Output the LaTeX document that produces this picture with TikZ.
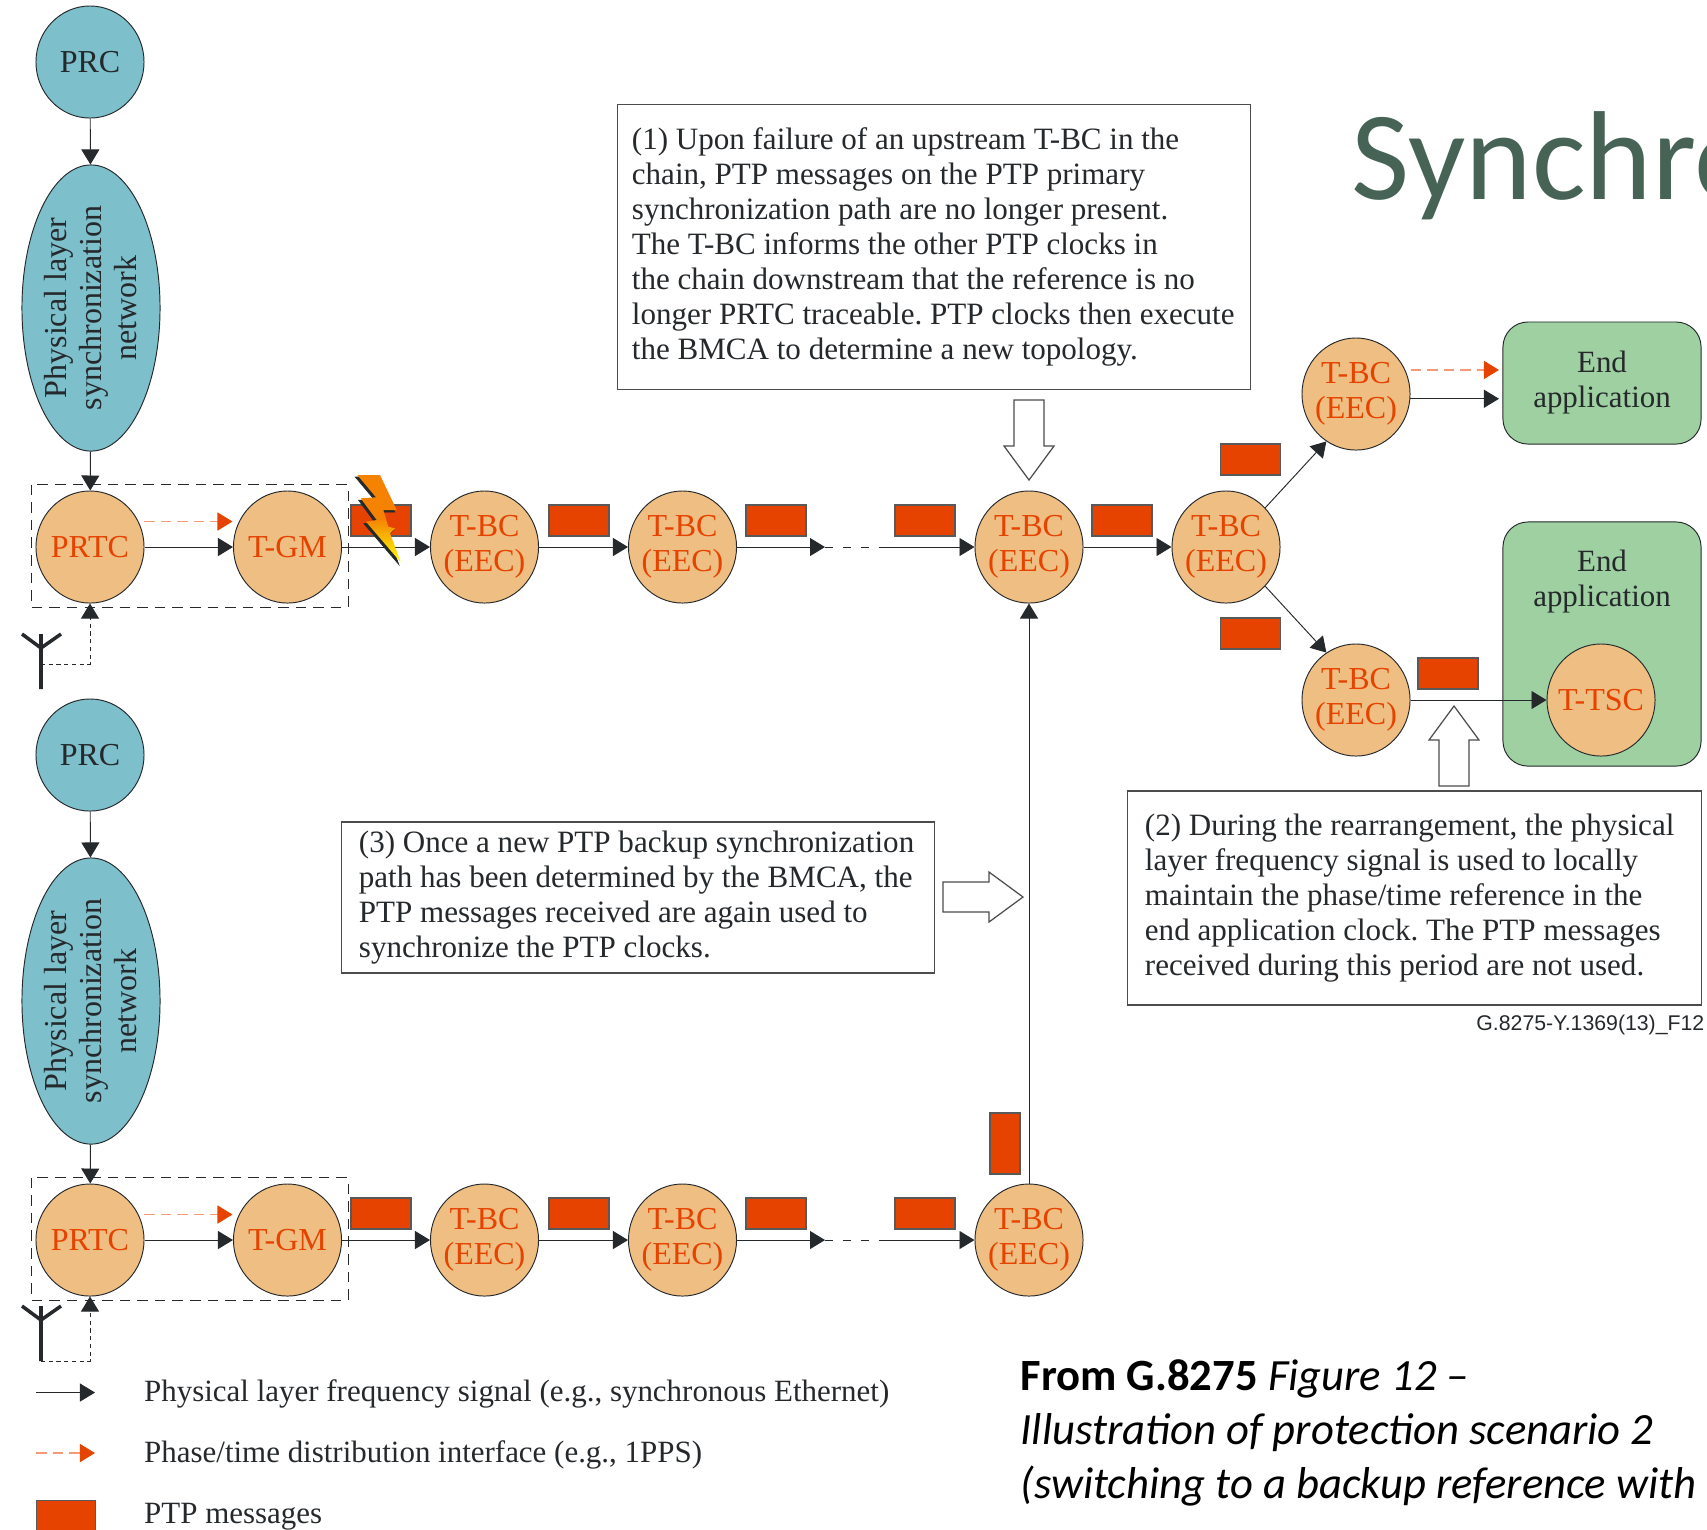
\documentclass[tikz,border=0pt]{standalone}
\usepackage{fontspec}
\setmainfont{Liberation Serif}
\newfontfamily\carlitofont{Carlito}
\newfontfamily\arialfont{Liberation Sans}
\usetikzlibrary{arrows.meta}
\usetikzlibrary{shapes.geometric}

\definecolor{darkline}{HTML}{25292C}
\definecolor{ptporange}{HTML}{E64200}
\definecolor{dashorange}{HTML}{F59A78}
\definecolor{clockfill}{HTML}{EFBE82}
\definecolor{syncfill}{HTML}{7DBFCB}
\definecolor{endfill}{HTML}{9FD0A1}
\definecolor{titlegreen}{HTML}{476356}
\definecolor{boltorange}{HTML}{F58200}

\newcommand{\bodyfont}{\frenchspacing\fontsize{8.83}{9.95}\selectfont}
\newcommand{\clockfont}{\fontsize{9.1}{9.95}\selectfont}
\newcommand{\keyfont}{\fontsize{8.8}{9.95}\selectfont}

\tikzset{
  every node/.style={font=\bodyfont, text=darkline},
  thin line/.style={draw=darkline, line width=0.27pt},
  flow/.style={thin line, -{Triangle[length=0.15cm, width=0.18cm, color=darkline]}},
  phase/.style={draw=dashorange, line width=0.4pt, dash pattern=on 3pt off 1.7pt,
    -{Triangle[length=0.15cm, width=0.18cm, color=ptporange, fill=ptporange]}},
  clock/.style={ellipse, thin line, fill=clockfill, inner sep=-3pt,
    minimum width=1.08cm, minimum height=1.12cm, align=center, text=ptporange, font=\clockfont},
  syncnode/.style={ellipse, thin line, fill=syncfill, inner sep=-3pt, font=\clockfont},
  ptpmsg/.style={rectangle, draw=black!65, line width=0.35pt, fill=ptporange, inner sep=0pt,
    minimum width=0.6cm, minimum height=0.31cm},
  endbox/.style={rectangle, rounded corners=0.25cm, thin line, fill=endfill, inner sep=0pt,
    minimum width=1.98cm, align=center, font=\keyfont},
  notebox/.style={rectangle, draw=black!70, line width=0.35pt, fill=white, inner sep=0pt},
  notetext/.style={anchor=west, inner sep=0pt, align=left},
  hollowline/.style={draw=black!70, line width=0.35pt, fill=white},
}

\newcommand{\hollowarrow}[3]{
  \draw [hollowline, shift={(#1,#2)}, rotate=#3]
  (0,0) -- (-34,-25) -- (-34,-15) -- (-80,-15) -- (-80,15) -- (-34,15) -- (-34,25) -- cycle;
}

\begin{document}
\begin{tikzpicture}[x=0.01cm, y=-0.01cm]
  \useasboundingbox (0,0) rectangle (1707,1529);
  \clip (0,0) rectangle (1707,1529);

  \foreach \r/\off/\ant/\tap in {a/0/634/664, b/693/1306/1361} {
    \node [syncnode, minimum width=1.08cm, minimum height=1.12cm] (prc\r) at (90,{62+\off}) {PRC};
    \node [syncnode, minimum width=1.38cm, minimum height=2.86cm] (sync\r) at (91,{308+\off}) {};
    \node [rotate=90, align=center, font=\clockfont] (synctext\r) at (sync\r) {Physical layer\\synchronization\\network};

    \draw [thin line, dash pattern=on 3pt off 2pt] (31,{484.7+\off}) rectangle (348,{607+\off});

    \node [clock] (prtc\r) at (90,{547+\off}) {PRTC};
    \node [clock] (tgm\r) at (287.5,{547+\off}) {T-GM};
    \node [clock] (first\r) at (484.5,{547+\off}) {T-BC\\(EEC)};
    \node [clock] (second\r) at (682.5,{547+\off}) {T-BC\\(EEC)};
    \node [clock] (third\r) at (1029,{547+\off}) {T-BC\\(EEC)};

    \node [ptpmsg] (msgone\r) at (381,{520.5+\off}) {};
    \node [ptpmsg] (msgtwo\r) at (579,{520.5+\off}) {};
    \node [ptpmsg] (msgthree\r) at (776,{520.5+\off}) {};
    \node [ptpmsg] (msgfour\r) at (925,{520.5+\off}) {};

    \coordinate (gapstart\r) at (825,{547+\off});
    \coordinate (gapend\r) at (885,{547+\off});

    \draw [flow] (prc\r) -- (sync\r);
    \draw [flow] (sync\r) -- (prtc\r);
    \draw [flow] (prtc\r) -- (tgm\r);
    \draw [phase] (144,{521.5+\off}) -- (232.5,{521.5+\off});
    \draw [flow] (tgm\r) -- (first\r);
    \draw [flow] (first\r) -- (second\r);
    \draw [flow] (second\r) -- (gapstart\r);
    \draw [thin line, dash pattern=on 2.3pt off 2.8pt] (gapstart\r) -- (gapend\r);
    \draw [flow] (gapend\r) -- (third\r);

    \coordinate (antfoot\r) at (41,{\ant+55});
    \coordinate (anthub\r) at (41,{\ant+14});
    \coordinate (anttop\r) at (41,\ant);
    \coordinate (tapin\r) at (41,\tap);
    \draw [darkline, line width=1pt] (antfoot\r) -- (anttop\r) (22,\ant) -- (anthub\r) -- (61,\ant);
    \draw [thin line, dash pattern=on 1.2pt off 1pt, -{Triangle[length=0.15cm, width=0.18cm, color=darkline]}]
    (tapin\r) -| (prtc\r.south);
  }

  \node [clock] (fork) at (1226,547) {T-BC\\(EEC)};
  \node [clock] (upper) at (1356,394) {T-BC\\(EEC)};
  \node [clock] (lower) at (1356,700) {T-BC\\(EEC)};

  \node [endbox, minimum height=1.22cm] (endup) at (1602,383) {End\\application};
  \node [endbox, minimum height=2.44cm, text depth=1.32cm] (endlow) at (1602,644) {End\\application};
  \node [clock] (tsc) at (1601,700) {T-TSC};

  \node [ptpmsg] (msgforkin) at (1122,520.5) {};
  \node [ptpmsg] (msgup) at (1250.5,459.5) {};
  \node [ptpmsg] (msgdown) at (1250.5,633.5) {};
  \node [ptpmsg] (msglow) at (1448,673.5) {};
  \node [ptpmsg, minimum width=0.3cm, minimum height=0.61cm] (msgrise) at (1005,1143.5) {};

  \draw [flow] (thirda) -- (fork);
  \draw [flow] (fork.45) -- (upper.238);
  \draw [flow] (fork.-45) -- (lower.122);
  \draw [flow, shorten >=1pt] (upper.-5) -- (upper.-5 -| endup.west);
  \draw [phase, shorten >=1pt, shorten <=1.5pt] (upper.26) -- (upper.26 -| endup.west);
  \draw [flow] (lower) -- (tsc);
  \draw [flow] (thirdb) -- (thirda);

  \node [notebox, minimum width=6.32cm, minimum height=2.845cm] (noteone) at (934,247) {};
  \node [notetext, xshift=0.14cm] (noteonetext) at (noteone.west)
  {(1) Upon failure of an upstream T-BC in the\\
    chain, PTP messages on the PTP primary\\
    synchronization path are no longer present.\\
    The T-BC informs the other PTP clocks in\\
    the chain downstream that the reference is no\\
    longer PRTC traceable. PTP clocks then execute\\
    the BMCA to determine a new topology.};
  \node [notebox, minimum width=5.73cm, minimum height=2.14cm] (notetwo) at (1414.5,898) {};
  \node [notetext, xshift=0.17cm] (notetwotext) at (notetwo.west)
  {(2) During the rearrangement, the physical\\
    layer frequency signal is used to locally\\
    maintain the phase/time reference in the\\
    end application clock. The PTP messages\\
    received during this period are not used.};
  \node [notebox, minimum width=5.92cm, minimum height=1.51cm] (notethree) at (638,897.5) {};
  \node [notetext, xshift=0.17cm] (notethreetext) at (notethree.west)
  {(3) Once a new PTP backup synchronization\\
    path has been determined by the BMCA, the\\
    PTP messages received are again used to\\
    synchronize the PTP clocks.};

  \hollowarrow{1029}{480}{-90}
  \hollowarrow{1454}{706}{90}
  \hollowarrow{1023}{897}{0}

  \draw [fill=darkline, draw=darkline, line width=0.2pt, shift={(-2,2)}]
  (357.3,475) -- (380,475) -- (396.7,510) -- (383.3,510) -- (388.3,526.7) -- (395,528.3) -- (390,533.3)
  -- (400.7,562.3) -- (366,521.7) -- (376.7,520) -- (360.7,498.3) -- (376,497.3) -- cycle;
  \shade [top color=boltorange, bottom color=yellow, middle color=boltorange]
  (357.3,475) -- (380,475) -- (396.7,510) -- (383.3,510) -- (388.3,526.7) -- (395,528.3) -- (390,533.3)
  -- (400.7,562.3) -- (366,521.7) -- (376.7,520) -- (360.7,498.3) -- (376,497.3) -- cycle;

  \node [anchor=base east, inner sep=0pt, font=\arialfont\fontsize{6.05}{7}\selectfont] (figid) at (1705,1030) {G.8275-Y.1369(13)\_F12};

  \coordinate (keyonestart) at (36,1392.5);
  \coordinate (keyoneend) at (95,1392.5);
  \coordinate (keytwostart) at (36,1453);
  \coordinate (keytwoend) at (95,1453);
  \draw [flow] (keyonestart) -- (keyoneend);
  \draw [phase] (keytwostart) -- (keytwoend);
  \node [ptpmsg, anchor=north west, minimum width=0.59cm, minimum height=0.4cm] (keymsg) at (36,1500) {};
  \node [anchor=base west, inner sep=0pt, font=\keyfont] (keyonetext) at (143.5,1401) {Physical layer frequency signal (e.g., synchronous Ethernet)};
  \node [anchor=base west, inner sep=0pt, font=\keyfont] (keytwotext) at (143.5,1462) {Phase/time distribution interface (e.g., 1PPS)};
  \node [anchor=base west, inner sep=0pt, font=\keyfont] (keythreetext) at (143.5,1523) {PTP messages};

  \node [anchor=base west, inner sep=0pt, text=titlegreen, font=\carlitofont\fontsize{36}{40}\selectfont] (title) at (1351,199) {Synchro};
  \node [anchor=north west, inner sep=0pt, align=left, text=black, font=\carlitofont\fontsize{12.7}{15.36}\selectfont] (caption) at (1020,1359)
  {\textbf{From G.8275} \textit{Figure 12 –}\\
    \textit{Illustration of protection scenario 2}\\
    \textit{(switching to a backup reference with}};
\end{tikzpicture}
\end{document}
